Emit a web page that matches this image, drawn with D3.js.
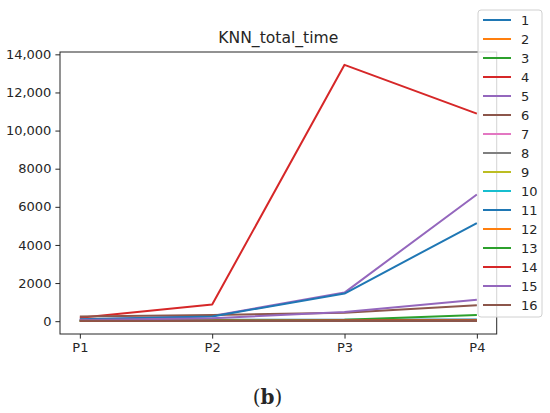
<!DOCTYPE html>
<html>
<head>
<meta charset="utf-8">
<script src="https://cdn.jsdelivr.net/npm/d3@7"></script>
<style>
    body { margin: 0; background: #fff; }
    text { font-family: "DejaVu Sans", sans-serif; fill: #262626; }
</style>
</head>
<body>
<div id="chart"></div>
<script>
//Data
var categories = ['P1', 'P2', 'P3', 'P4'];
var seriesNames = ['1', '2', '3', '4', '5', '6', '7', '8', '9', '10', '11', '12', '13', '14', '15', '16'];
var s1 = [60, 70, 80, 90];
var s2 = [30, 35, 40, 50];
var s3 = [15, 30, 80, 330];
var s4 = [180, 870, 13450, 10890];
var s5 = [80, 270, 1500, 6650];
var s6 = [250, 330, 440, 830];
var s7 = [10, 15, 20, 30];
var s8 = [5, 10, 15, 20];
var s9 = [8, 12, 15, 20];
var s10 = [10, 15, 20, 25];
var s11 = [100, 250, 1450, 5150];
var s12 = [20, 25, 30, 45];
var s13 = [10, 20, 30, 40];
var s14 = [20, 25, 30, 35];
var s15 = [60, 150, 480, 1130];
var s16 = [20, 15, 10, 5];
var yTicks = [0, 2000, 4000, 6000, 8000, 10000, 12000, 14000];
var title = 'KNN_total_time';
var caption = 'b';

var allSeries = [s1, s2, s3, s4, s5, s6, s7, s8, s9, s10, s11, s12, s13, s14, s15, s16];
var colors = d3.schemeCategory10;

var width = 550;
var height = 413;
var margin = { left: 60, top: 52, right: 53.3, bottom: 79 };

var svg = d3.select('#chart').append('svg')
    .attr('width', width)
    .attr('height', height);

//matplotlib style 5% padding on both axes
var yMax = d3.max(allSeries, function(s) { return d3.max(s); });
var yMin = 0;
var pad = (yMax - yMin) * 0.05;

var x = d3.scaleLinear()
    .domain([-0.15, categories.length - 1 + 0.15])
    .range([margin.left, width - margin.right]);

var y = d3.scaleLinear()
    .domain([yMin - pad, yMax + pad])
    .range([height - margin.bottom, margin.top]);

var fmt = function(d) { return d >= 10000 ? d3.format(',')(d) : String(d); };

//Axes
var xAxis = svg.append('g')
    .attr('transform', 'translate(0,' + (height - margin.bottom) + ')')
    .call(d3.axisBottom(x).tickValues(d3.range(categories.length))
        .tickFormat(function(i) { return categories[i]; })
        .tickSizeOuter(0).tickSize(4.6).tickPadding(4));

var yAxis = svg.append('g')
    .attr('transform', 'translate(' + margin.left + ',0)')
    .call(d3.axisLeft(y).tickValues(yTicks).tickFormat(fmt)
        .tickSizeOuter(0).tickSize(4.6).tickPadding(4));

[xAxis, yAxis].forEach(function(a) {
    a.selectAll('text').style('font-size', '13px').style('font-family', '"DejaVu Sans", sans-serif').attr('fill', '#262626');
    a.selectAll('line').attr('stroke', '#262626').attr('stroke-width', 1);
    a.select('.domain').remove();
});

//Spines
svg.append('rect')
    .attr('x', margin.left)
    .attr('y', margin.top)
    .attr('width', width - margin.left - margin.right)
    .attr('height', height - margin.top - margin.bottom)
    .attr('fill', 'none')
    .attr('stroke', '#262626')
    .attr('stroke-width', 1);

//Lines
var line = d3.line()
    .x(function(d, i) { return x(i); })
    .y(function(d) { return y(d); });

svg.append('g').selectAll('path')
    .data(allSeries)
    .enter().append('path')
    .attr('d', line)
    .attr('fill', 'none')
    .attr('stroke', function(d, i) { return colors[i % 10]; })
    .attr('stroke-width', 2)
    .attr('stroke-linejoin', 'round');

//Title
svg.append('text')
    .attr('x', (margin.left + width - margin.right) / 2)
    .attr('y', margin.top - 9)
    .attr('text-anchor', 'middle')
    .style('font-size', '15.6px')
    .text(title);

//Legend
var legend = svg.append('g').attr('transform', 'translate(478,10)');
legend.append('rect')
    .attr('width', 64)
    .attr('height', 307)
    .attr('rx', 3)
    .attr('fill', 'rgba(255,255,255,0.8)')
    .attr('stroke', '#d0d0d0')
    .attr('stroke-width', 1);

var item = legend.selectAll('.item')
    .data(seriesNames)
    .enter().append('g')
    .attr('class', 'item')
    .attr('transform', function(d, i) { return 'translate(0,' + (10 + i * 19) + ')'; });

item.append('line')
    .attr('x1', 5).attr('x2', 33)
    .attr('stroke', function(d, i) { return colors[i % 10]; })
    .attr('stroke-width', 2);

item.append('text')
    .attr('x', 43)
    .attr('dy', '0.35em')
    .style('font-size', '13px')
    .text(function(d) { return d; });

//Caption
var cap = svg.append('text')
    .attr('x', 267.5)
    .attr('y', 404)
    .attr('text-anchor', 'middle')
    .style('font-family', '"DejaVu Serif", "Liberation Serif", serif')
    .style('font-size', '20px')
    .attr('fill', '#111');
cap.append('tspan').text('(');
cap.append('tspan').style('font-weight', 'bold').text(caption);
cap.append('tspan').text(')');
</script>
</body>
</html>
